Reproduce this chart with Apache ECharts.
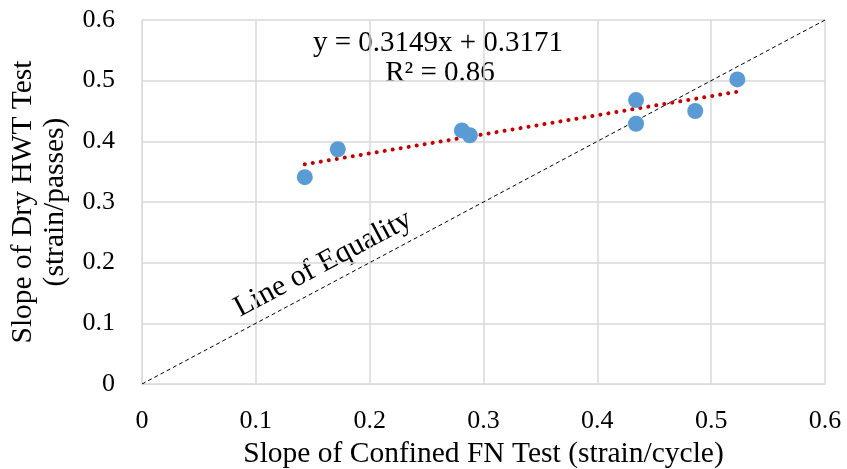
<!DOCTYPE html>
<html>
<head>
<meta charset="utf-8">
<script src="https://cdn.jsdelivr.net/npm/echarts@6/dist/echarts.min.js"></script>
<style>
  html, body { margin: 0; padding: 0; background: #fff; }
  #chart { width: 847px; height: 469px; }
</style>
</head>
<body>
<div id="chart"></div>
<script>
// measured points (confined FN slope, dry HWT slope)
const fnSlope = [0.143, 0.172, 0.281, 0.288, 0.434, 0.434, 0.486, 0.523];
const hwtSlope = [0.341, 0.387, 0.418, 0.410, 0.468, 0.429, 0.450, 0.502];
const trendSlope = 0.3149;
const trendIntercept = 0.3171;
const equalityLine = [[0, 0], [0.6, 0.6]];
const axisTicks = [0, 0.1, 0.2, 0.3, 0.4, 0.5, 0.6];

const points = fnSlope.map((x, i) => [x, hwtSlope[i]]);
const xMin = Math.min(...fnSlope);
const xMax = Math.max(...fnSlope);
const trend = [xMin, xMax].map(x => [x, trendSlope * x + trendIntercept]);

const font = '"Liberation Serif", "Times New Roman", serif';
const chart = echarts.init(document.getElementById('chart'));

const option = {
  textStyle: { fontFamily: font, color: '#000' },
  animation: false,
  grid: { left: 142, right: 22, top: 20, bottom: 85, containLabel: false, outerBoundsMode: 'none' },
  xAxis: {
    type: 'value',
    min: axisTicks[0],
    max: axisTicks[axisTicks.length - 1],
    interval: 0.1,
    name: 'Slope of Confined FN Test (strain/cycle)',
    nameLocation: 'middle',
    nameGap: 52,
    nameTextStyle: { fontFamily: font, fontSize: 29.5, color: '#000' },
    axisLine: { lineStyle: { color: '#d9d9d9' } },
    axisTick: { show: false },
    axisLabel: {
      fontFamily: font, fontSize: 26, color: '#000', margin: 24,
      formatter: v => String(+v.toFixed(1))
    },
    splitLine: { lineStyle: { color: '#d9d9d9', width: 1.5 } }
  },
  yAxis: {
    type: 'value',
    min: axisTicks[0],
    max: axisTicks[axisTicks.length - 1],
    interval: 0.1,
    name: 'Slope of Dry HWT Test\n(strain/passes)',
    nameLocation: 'middle',
    nameGap: 70,
    nameTextStyle: { fontFamily: font, fontSize: 29.5, color: '#000', lineHeight: 32 },
    axisLine: { show: true, lineStyle: { color: '#d9d9d9' } },
    axisTick: { show: false },
    axisLabel: {
      fontFamily: font, fontSize: 26, color: '#000', margin: 27,
      formatter: v => String(+v.toFixed(1))
    },
    splitLine: { lineStyle: { color: '#d9d9d9', width: 1.5 } }
  },
  series: [
    {
      name: 'Line of Equality',
      type: 'line',
      data: equalityLine,
      symbol: 'none',
      lineStyle: { color: '#000', width: 1, type: [4, 3] },
      z: 2
    },
    {
      name: 'Trend',
      type: 'line',
      data: trend,
      symbol: 'none',
      lineStyle: { color: '#c00000', width: 4, type: [0.1, 8], cap: 'round' },
      z: 3
    },
    {
      name: 'Data',
      type: 'scatter',
      data: points,
      symbolSize: 16,
      itemStyle: { color: '#5b9bd5', opacity: 1 },
      z: 4
    }
  ],
  graphic: [
    {
      type: 'text',
      x: 438, y: 43,
      style: { text: 'y = 0.3149x + 0.3171', font: '29px ' + font, fill: '#000', align: 'center', verticalAlign: 'middle' }
    },
    {
      type: 'text',
      x: 440, y: 73,
      style: { text: 'R² = 0.86', font: '29px ' + font, fill: '#000', align: 'center', verticalAlign: 'middle' }
    },
    {
      type: 'text',
      x: 323, y: 264,
      rotation: 28 * Math.PI / 180,
      style: { text: 'Line of Equality', font: '30px ' + font, fill: '#000', align: 'center', verticalAlign: 'middle' }
    }
  ]
};

chart.setOption(option);
window.addEventListener('resize', () => chart.resize());
</script>
</body>
</html>
